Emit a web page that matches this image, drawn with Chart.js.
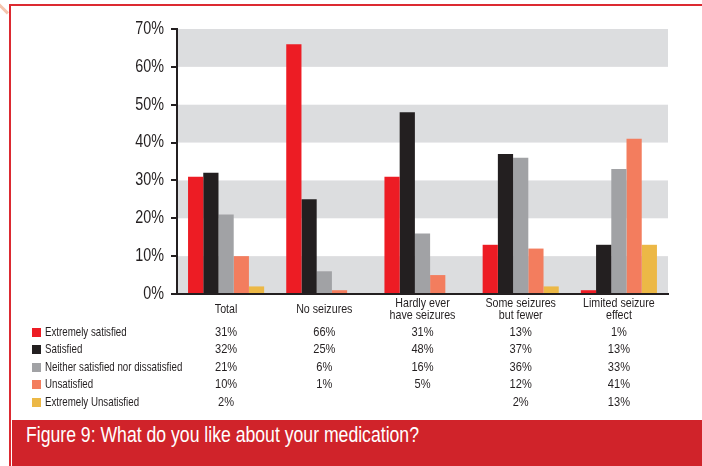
<!DOCTYPE html>
<html>
<head>
<meta charset="utf-8">
<script src="https://cdn.jsdelivr.net/npm/chart.js@4.4.1/dist/chart.umd.min.js"></script>
<style>
  html, body { margin:0; padding:0; background:#fff; }
  #wrap { position:relative; width:702px; height:466px; overflow:hidden; }
  #chart { position:absolute; left:0; top:0; }
  .frameTop { position:absolute; left:9px; top:4px; width:693px; height:2px; background:#dc2a31; }
  .frameLeft { position:absolute; left:9px; top:4px; width:2px; height:462px; background:#dc2a31; }
  .corner { position:absolute; left:-2px; top:2px; width:14px; height:3px; background:#f5c4ad; transform:rotate(45deg); transform-origin:left center; }
  #caption {
    position:absolute; left:12px; top:420px; width:690px; height:46px;
    background:#d0232a; box-sizing:border-box; padding:4px 0 0 14px;
  }
  #caption span {
    display:inline-block; color:#fff; white-space:nowrap;
    font:21.5px/22px "Liberation Sans",Arial,sans-serif;
    transform:scaleX(0.82); transform-origin:left center;
  }
</style>
</head>
<body>
<div id="wrap">
  <canvas id="chart" width="702" height="466"></canvas>
  <div class="corner"></div>
  <div class="frameTop"></div>
  <div class="frameLeft"></div>
  <div id="caption"><span>Figure 9: What do you like about your medication?</span></div>
</div>
<script>
// satisfaction by seizure outcome (percent of respondents)
const groups = ["Total", "No seizures", ["Hardly ever", "have seizures"], ["Some seizures", "but fewer"], ["Limited seizure", "effect"]];
const series = ["Extremely satisfied", "Satisfied", "Neither satisfied nor dissatisfied", "Unsatisfied", "Extremely Unsatisfied"];
const extremelySatisfied   = [31, 66, 31, 13, 1];
const satisfied            = [32, 25, 48, 37, 13];
const neither              = [21, 6, 16, 36, 33];
const unsatisfied          = [10, 1, 5, 12, 41];
const extremelyUnsatisfied = [2, null, null, 2, 13];
const yTicks = [0, 10, 20, 30, 40, 50, 60, 70];

const colors = ["#ed1c24", "#231f20", "#a1a2a5", "#f37d5e", "#ecb846"];
const INK = "#231f20";
const values = [extremelySatisfied, satisfied, neither, unsatisfied, extremelyUnsatisfied];

// no narrow face installed, so squeeze Liberation Sans horizontally
function narrowText(ctx, s, x, y, size, align, squeeze = 0.82) {
  ctx.save();
  ctx.font = size + 'px "Liberation Sans", Arial, sans-serif';
  ctx.fillStyle = INK;
  ctx.textAlign = align;
  ctx.textBaseline = "middle";
  ctx.translate(x, y);
  ctx.scale(squeeze, 1);
  ctx.fillText(s, 0, 0);
  ctx.restore();
}

// grey bands behind every other 10% interval
const bands = {
  id: "bands",
  beforeDraw(chart) {
    const { ctx, chartArea: a, scales: { y } } = chart;
    ctx.save();
    ctx.fillStyle = "#dcdddf";
    for (let i = 0; i < yTicks.length - 1; i += 2) {
      const top = y.getPixelForValue(yTicks[i + 1]);
      const bot = y.getPixelForValue(yTicks[i]);
      ctx.fillRect(a.left, top, a.right - a.left, bot - top);
    }
    ctx.restore();
  }
};

// axis labels, legend keys and the value table under the x axis
const labels = {
  id: "labels",
  afterDraw(chart) {
    const { ctx, scales: { x, y } } = chart;
    yTicks.forEach(v => narrowText(ctx, v + "%", 164, y.getPixelForValue(v), 17.5, "right"));

    groups.forEach((g, c) => {
      const cx = x.getPixelForValue(c);
      const lines = Array.isArray(g) ? g : [g];
      const mid = x.top + 15;
      lines.forEach((ln, k) => narrowText(ctx, ln, cx, mid + (k - (lines.length - 1) / 2) * 12, 13, "center"));
    });

    const y0 = x.top + 38, step = 17.5;
    series.forEach((name, r) => {
      const yy = y0 + r * step;
      ctx.fillStyle = colors[r];
      ctx.fillRect(32, Math.round(yy - 4.5), 9, 9);
      narrowText(ctx, name, 45, yy, 12.8, "left", 0.76);
      values[r].forEach((v, c) => {
        if (v == null) return;
        narrowText(ctx, v + "%", x.getPixelForValue(c), yy, 13.5, "center");
      });
    });
  }
};

new Chart(document.getElementById("chart"), {
  type: "bar",
  data: {
    labels: groups,
    datasets: series.map((name, i) => ({
      label: name,
      data: values[i],
      backgroundColor: colors[i],
      categoryPercentage: 0.775,
      barPercentage: 1
    }))
  },
  options: {
    responsive: false,
    animation: false,
    layout: { padding: { top: 29, right: 34, bottom: 0, left: 0 } },
    plugins: { legend: { display: false }, tooltip: { enabled: false } },
    scales: {
      x: {
        afterFit(s) { s.height = 172; },
        grid: { display: true, color: "transparent", drawTicks: false },
        border: { display: true, color: INK, width: 2 },
        ticks: { display: false }
      },
      y: {
        min: 0, max: 70,
        afterFit(s) { s.width = 177; },
        afterBuildTicks(s) { s.ticks = yTicks.map(v => ({ value: v })); },
        grid: { drawOnChartArea: false, drawTicks: true, tickLength: 6, color: INK, lineWidth: 2 },
        border: { display: true, color: INK, width: 2 },
        ticks: { display: false }
      }
    }
  },
  plugins: [bands, labels]
});
</script>
</body>
</html>
